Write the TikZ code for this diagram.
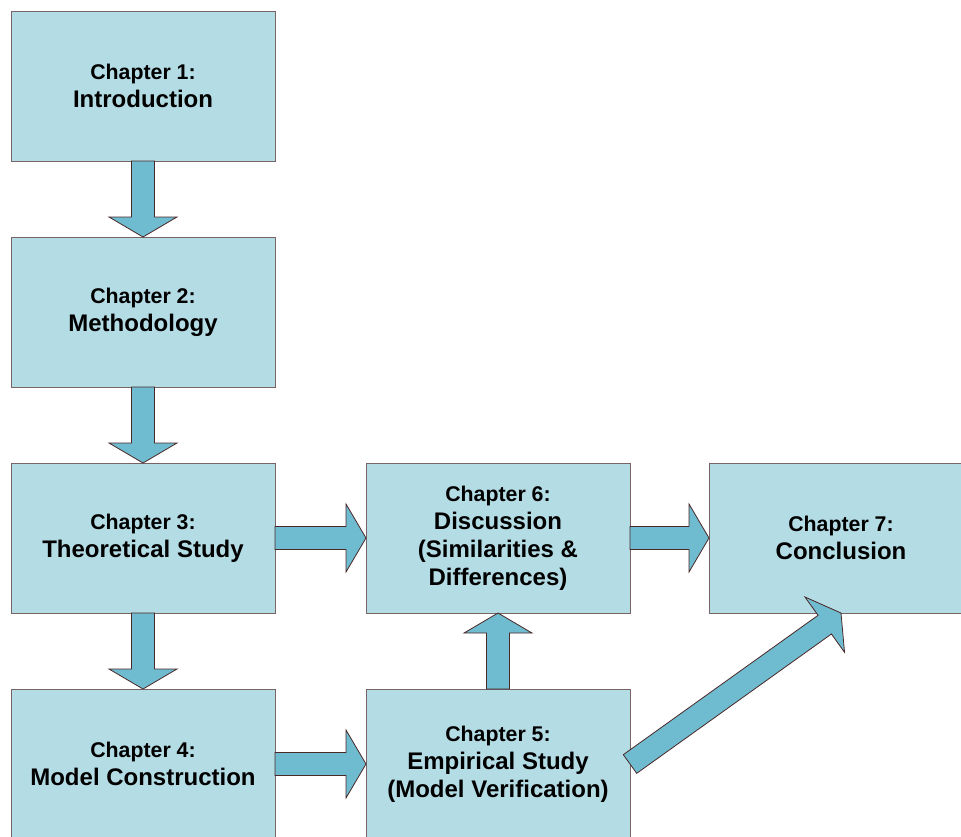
\documentclass[tikz,border=0pt]{standalone}
\usepackage{fontspec}
\setmainfont{Liberation Sans}
\usetikzlibrary{calc}
\definecolor{boxfill}{RGB}{180,220,229}
\definecolor{boxline}{RGB}{120,100,100}
\definecolor{arrfill}{RGB}{111,187,207}
\definecolor{arrline}{RGB}{75,40,40}
\newcommand\chap[1]{{\fontsize{21.3}{28}\selectfont #1}}
\newcommand\blockarrow[2]{%
  \coordinate (ah) at ($(#2)!20pt!(#1)$);
  \draw[barrow] ($(#1)!11.5pt!90:(#2)$) -- ($(ah)!11.5pt!90:(#2)$) -- ($(ah)!34pt!90:(#2)$) -- (#2)
    -- ($(ah)!34pt!-90:(#2)$) -- ($(ah)!11.5pt!-90:(#2)$) -- ($(#1)!11.5pt!-90:(#2)$) -- cycle;}
\begin{document}
\begin{tikzpicture}[x=1pt,y=-1pt,
  chapbox/.style={draw=boxline, fill=boxfill, line width=1pt, minimum width=264pt, minimum height=150pt,
    inner sep=0pt, outer sep=0pt, align=center, font=\fontsize{24}{28}\selectfont\bfseries},
  barrow/.style={draw=arrline, fill=arrfill, line width=0.8pt, line join=miter}]
\useasboundingbox (0,0) rectangle (961,836);
\clip (0,0) rectangle (961,836);
\node[chapbox] (c1) at (143,86) {\chap{Chapter 1:}\\Introduction};
\node[chapbox] (c2) at (143,312) {\chap{Chapter 2:}\\Methodology};
\node[chapbox] (c3) at (143,538) {\chap{Chapter 3:}\\Theoretical Study};
\node[chapbox] (c4) at (143,764) {\chap{Chapter 4:}\\Model Construction};
\node[chapbox] (c6) at (498,538) {\chap{Chapter 6:}\\Discussion\\(Similarities \&\\Differences)};
\node[chapbox] (c5) at (498,764) {\chap{Chapter 5:}\\Empirical Study\\(Model Verification)};
\node[chapbox] (c7) at (841,538) {\chap{Chapter 7:}\\Conclusion};
\blockarrow{c1.south}{c2.north}
\blockarrow{c2.south}{c3.north}
\blockarrow{c3.south}{c4.north}
\blockarrow{c3.east}{c6.west}
\blockarrow{c4.east}{c5.west}
\blockarrow{c5.north}{c6.south}
\blockarrow{c6.east}{c7.west}
\blockarrow{c5.east}{c7.south}
\end{tikzpicture}
\end{document}
